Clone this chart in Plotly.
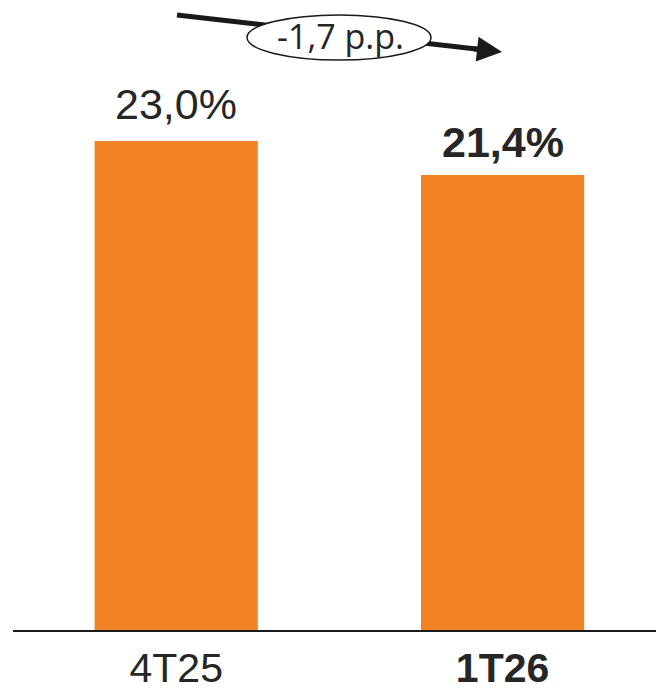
import plotly.graph_objects as go

categories = ["4T25", "1T26"]
values = [23.0, 21.4]
value_labels = ["23,0%", "<b>21,4%</b>"]
tick_labels = ["4T25", "<b>1T26</b>"]
delta_label = "-1,7 p.p."

W, H = 656, 690
ML, MR, MT, MB = 13, 0, 0, 60
PW, PH = W - ML - MR, H - MT - MB
YMAX = 29.63

def px(xp):
    return (xp - ML) / PW

def py(yp):
    return 1 - (yp - MT) / PH

ORANGE = "#F28322"
DARK = "#262626"

fig = go.Figure()
fig.add_trace(go.Bar(
    x=categories, y=values, width=0.5,
    marker=dict(color=ORANGE, line=dict(width=0)),
    hoverinfo="skip",
))

for cat, val, lab, ys in zip(categories, values, value_labels, [11, 7]):
    fig.add_annotation(x=cat, y=val, xref="x", yref="y", text=lab,
                       showarrow=False, yanchor="bottom", xanchor="center",
                       yshift=ys,
                       font=dict(family="Liberation Sans, Arial", size=43, color=DARK))

fig.update_layout(
    width=W, height=H,
    margin=dict(l=ML, r=MR, t=MT, b=MB, pad=0, autoexpand=False),
    paper_bgcolor="white", plot_bgcolor="white",
    showlegend=False,
    bargap=0.5,
    xaxis=dict(
        type="category", range=[-0.5, 1.47], automargin=False,
        tickvals=categories, ticktext=tick_labels,
        tickfont=dict(family="Liberation Sans, Arial", size=41, color=DARK),
        showline=True, linecolor="#1a1a1a", linewidth=2,
        showgrid=False, zeroline=False, ticks="", ticklabelstandoff=1,
    ),
    yaxis=dict(range=[0, YMAX], visible=False, showgrid=False, zeroline=False,
               automargin=False),
)

# arrow body
fig.add_shape(type="line", xref="paper", yref="paper",
              x0=px(177), y0=py(15), x1=px(485), y1=py(50),
              line=dict(color="#1a1a1a", width=5), layer="above")
# ellipse
fig.add_shape(type="circle", xref="paper", yref="paper",
              x0=px(247), x1=px(431), y0=py(60), y1=py(15),
              fillcolor="white", line=dict(color="#1a1a1a", width=1.5), layer="above")
# arrow head
fig.add_annotation(xref="paper", yref="paper", x=px(502), y=py(52),
                   ax=-30, ay=-3.4, axref="pixel", ayref="pixel",
                   text="", showarrow=True, arrowhead=2, arrowsize=1,
                   arrowwidth=5, arrowcolor="#1a1a1a")
fig.add_annotation(xref="paper", yref="paper", x=px(340), y=py(36),
                   text=delta_label, showarrow=False,
                   font=dict(family="Open Sans, Noto Sans", size=34, color=DARK),
                   xanchor="center", yanchor="middle")

fig.write_html("out.html")
